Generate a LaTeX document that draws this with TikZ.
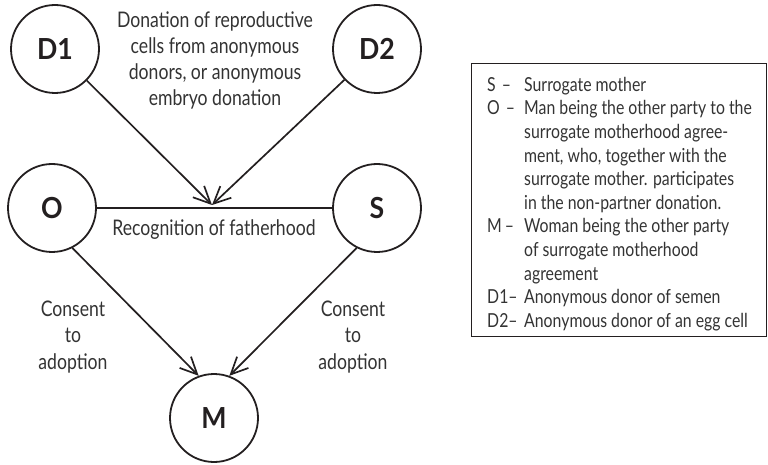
\documentclass[tikz,border=0pt]{standalone}
\usepackage{fontspec}
\setmainfont{Lato}[FakeStretch=0.82]
\newfontfamily\keyfont{Lato}[FakeStretch=0.92]
\usetikzlibrary{arrows.meta}
\definecolor{ink}{HTML}{231F20}
\definecolor{txt}{HTML}{333333}
\begin{document}
\begin{tikzpicture}[x=1pt,y=1pt,
  party/.style={circle,draw=ink,line width=1.8pt,minimum size=88pt,inner sep=0pt,
    font=\keyfont\bfseries\fontsize{29}{29}\selectfont,text=ink},
  link/.style={draw=ink,line width=1.7pt},
  arr/.style={link,-{Straight Barb[length=17pt,width=16pt,line width=1.7pt]}},
  lbl/.style={align=center,text=txt,font=\fontsize{21.5}{26.5}\selectfont,inner sep=0pt}]
\useasboundingbox (0,0) rectangle (768,464);

% parties
\node[party] (D1) at (55,415) {D1};
\node[party] (D2) at (377,415) {D2};
\node[party] (O)  at (52,256)  {O};
\node[party] (S)  at (377,256) {S};
\node[party] (M)  at (214,46)  {M};

% the donations meet on the fatherhood line
\coordinate (J) at (212,259);
\draw[link] (O) -- (S);
\draw[arr] (D1) -- (J);
\draw[arr] (D2) -- (J);
\draw[arr] (O.-63) -- (M.110);
\draw[arr] (S.-117) -- (M.70);

% labels
\node[lbl,font=\fontsize{21.5}{26}\selectfont] (don) at (215,404)
  {Donation of reproductive\\cells from anonymous\\donors, or anonymous\\embryo donation};
\node[lbl] (rec) at (214,234) {Recognition of fatherhood};
\node[lbl] (cl) at (73,127) {Consent\\to\\adoption};
\node[lbl] (cr) at (353,127) {Consent\\to\\adoption};

% key
\node[draw=ink,line width=1.2pt,minimum width=295pt,minimum height=273pt,
  anchor=north west,inner sep=0pt] (keybox) at (471,401) {};
\node[anchor=north west,inner sep=0pt,text=txt] (keytext)
  at ([xshift=16pt,yshift=-11.5pt]keybox.north west)
  {\fontsize{19.3}{23.6}\selectfont
   \begin{tabular}{@{}p{37pt}@{}l@{}}
   S\hspace{6pt}– & Surrogate mother\\
   O\hspace{6pt}– & Man being the other party to the\\
         & surrogate motherhood agree-\\
         & ment, who, together with the\\
         & surrogate mother. participates\\
         & in the non-partner donation.\\
   M\hspace{3pt}– & Woman being the other party\\
         & of surrogate motherhood\\
         & agreement\\
   D1– & Anonymous donor of semen\\
   D2– & Anonymous donor of an egg cell
   \end{tabular}};
\end{tikzpicture}
\end{document}
